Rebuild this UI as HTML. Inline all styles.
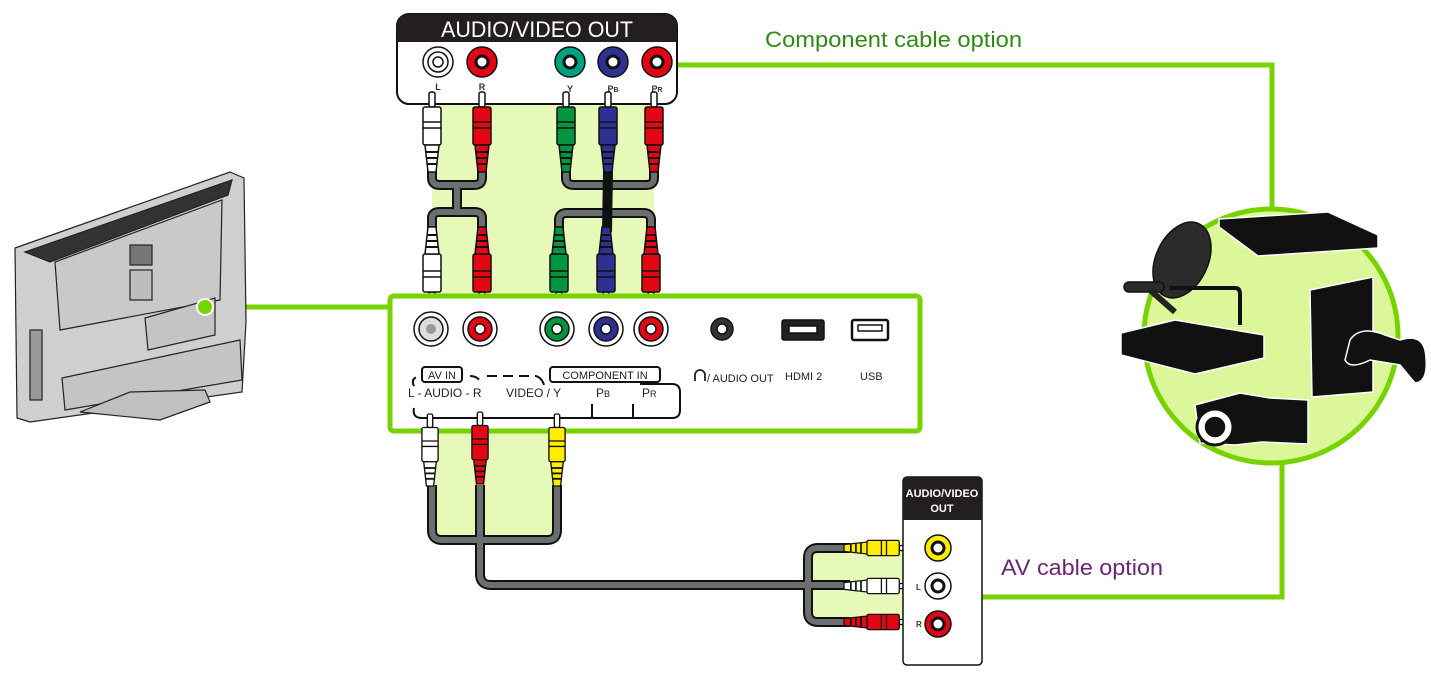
<!DOCTYPE html>
<html><head><meta charset="utf-8"><style>
html,body{margin:0;padding:0;background:#fff;width:1431px;height:677px;overflow:hidden}
svg{display:block}
text{font-family:"Liberation Sans",sans-serif}
</style></head><body>
<svg width="1431" height="677" viewBox="0 0 1431 677" xmlns="http://www.w3.org/2000/svg">
<defs>
<g id="plug" stroke="#111" stroke-width="1.5">
  <rect x="-3" y="0" width="6" height="15" rx="2" fill="#fff"/>
  <rect x="-9" y="15" width="18" height="38" rx="2"/>
  <line x1="-9" y1="30" x2="9" y2="30"/><line x1="-9" y1="36" x2="9" y2="36"/>
  <polygon points="-7,53 7,53 4,80 -4,80"/>
  <line x1="-6" y1="60" x2="6" y2="60" stroke-width="2"/><line x1="-5" y1="66" x2="5" y2="66" stroke-width="2"/><line x1="-5" y1="72" x2="5" y2="72" stroke-width="2"/>
</g>
</defs>

<rect x="432" y="100" width="222" height="198" fill="#e6f9b8"/>
<rect x="432" y="431" width="125" height="109" fill="#e6f9b8"/>
<rect x="808" y="548" width="95" height="76" fill="#e6f9b8"/>

<g stroke="#77d300" stroke-width="5" fill="none">
  <polyline points="677,65 1272,65 1272,212"/>
  <polyline points="1282,462 1282,597 982,597"/>
  <line x1="205" y1="307" x2="390" y2="307"/>
</g>
<text x="765" y="47" font-size="22" fill="#2f8a14" textLength="257" lengthAdjust="spacingAndGlyphs">Component cable option</text>
<text x="1001" y="575" font-size="22" fill="#6a2577" textLength="162" lengthAdjust="spacingAndGlyphs">AV cable option</text>

<!-- TV -->
<g stroke="#222" stroke-width="1.2">
  <polygon points="15,248 230,172 244,178 246,322 242,392 30,422 17,418" fill="#cfcfcf"/>
  <polygon points="25,252 232,180 228,195 50,262" fill="#333"/>
  <polygon points="55,262 222,200 220,300 60,330" fill="#c9c9c9"/>
  <rect x="130" y="245" width="22" height="20" fill="#777"/>
  <rect x="130" y="270" width="22" height="30" fill="#bdbdbd"/>
  <polygon points="145,318 215,298 215,335 148,350" fill="#c4c4c4"/>
  <polygon points="62,378 240,340 242,380 65,410" fill="#c4c4c4"/>
  <polygon points="80,412 130,392 205,390 210,402 160,420" fill="#c0c0c0"/>
  <rect x="30" y="330" width="12" height="70" fill="#999"/>
</g>
<circle cx="205" cy="307" r="8" fill="#77d300" stroke="#fff" stroke-width="2"/>

<!-- top AV OUT box -->
<rect x="397" y="14" width="280" height="90" rx="12" fill="#fff" stroke="#111" stroke-width="2"/>
<path d="M397,42 V26 A12,12 0 0 1 409,14 H665 A12,12 0 0 1 677,26 V42 Z" fill="#231f20"/>
<text x="537" y="37" font-size="22" fill="#fff" text-anchor="middle" textLength="192" lengthAdjust="spacingAndGlyphs">AUDIO/VIDEO OUT</text>
<g stroke="#111" stroke-width="1.5">
  <circle cx="438" cy="62" r="15" fill="#fff"/><circle cx="438" cy="62" r="10" fill="#fff"/><circle cx="438" cy="62" r="5" fill="#fff"/>
  <circle cx="482" cy="62" r="15" fill="#e30613"/><circle cx="482" cy="62" r="6" fill="#fff" stroke-width="3"/>
  <circle cx="570" cy="62" r="15" fill="#00a082"/><circle cx="570" cy="62" r="6" fill="#fff" stroke-width="3"/>
  <circle cx="613" cy="62" r="15" fill="#2e3192"/><circle cx="613" cy="62" r="6" fill="#fff" stroke-width="3"/>
  <circle cx="657" cy="62" r="15" fill="#e30613"/><circle cx="657" cy="62" r="6" fill="#fff" stroke-width="3"/>
</g>
<g font-size="9" font-weight="bold" fill="#333" text-anchor="middle">
  <text x="438" y="90">L</text><text x="482" y="90">R</text><text x="570" y="92">Y</text><text x="613" y="92">P<tspan font-size="7">B</tspan></text><text x="657" y="92">P<tspan font-size="7">R</tspan></text>
</g>

<g fill="none" stroke-linejoin="round">
  <g stroke="#111" stroke-width="10">
    <path d="M432,170 V178 Q432,185 440,185 H474 Q482,185 482,178 V170 M457,185 V212 M432,232 V218 Q432,212 440,212 H474 Q482,212 482,218 V232"/>
    <path d="M566,170 V178 Q566,185 574,185 H646 Q654,185 654,178 V170 M559,232 V220 Q559,213 567,213 H643 Q651,213 651,220 V232"/>
  </g>
  <g stroke="#6d6e70" stroke-width="6">
    <path d="M432,170 V178 Q432,185 440,185 H474 Q482,185 482,178 V170 M457,185 V212 M432,232 V218 Q432,212 440,212 H474 Q482,212 482,218 V232"/>
    <path d="M566,170 V178 Q566,185 574,185 H646 Q654,185 654,178 V170 M559,232 V220 Q559,213 567,213 H643 Q651,213 651,220 V232"/>
  </g>
  <line x1="608" y1="170" x2="607" y2="232" stroke="#111" stroke-width="10"/>
</g>
<use href="#plug" transform="translate(432,92)" fill="#fff"/>
<use href="#plug" transform="translate(482,92)" fill="#e30613"/>
<use href="#plug" transform="translate(566,92)" fill="#00963f"/>
<use href="#plug" transform="translate(608,92)" fill="#2e3192"/>
<use href="#plug" transform="translate(654,92)" fill="#e30613"/>
<use href="#plug" transform="translate(432,307) rotate(180)" fill="#fff"/>
<use href="#plug" transform="translate(482,307) rotate(180)" fill="#e30613"/>
<use href="#plug" transform="translate(559,307) rotate(180)" fill="#00963f"/>
<use href="#plug" transform="translate(606,307) rotate(180)" fill="#2e3192"/>
<use href="#plug" transform="translate(651,307) rotate(180)" fill="#e30613"/>

<!-- TV panel -->
<rect x="390" y="296" width="530" height="135" rx="4" fill="#fff" stroke="#77d300" stroke-width="5"/>
<g stroke="#111" stroke-width="1.5">
  <circle cx="431" cy="329" r="17" fill="#fff"/><circle cx="431" cy="329" r="12" fill="#ddd"/><circle cx="431" cy="329" r="5" fill="#999" stroke="none"/>
  <circle cx="480" cy="329" r="17" fill="#fff"/><circle cx="480" cy="329" r="12" fill="#e30613"/><circle cx="480" cy="329" r="5" fill="#fff"/>
  <circle cx="557" cy="329" r="17" fill="#fff"/><circle cx="557" cy="329" r="12" fill="#00963f"/><circle cx="557" cy="329" r="5" fill="#fff"/>
  <circle cx="606" cy="329" r="17" fill="#fff"/><circle cx="606" cy="329" r="12" fill="#2e3192"/><circle cx="606" cy="329" r="5" fill="#fff"/>
  <circle cx="651" cy="329" r="17" fill="#fff"/><circle cx="651" cy="329" r="12" fill="#e30613"/><circle cx="651" cy="329" r="5" fill="#fff"/>
  <circle cx="722" cy="329" r="11" fill="#333"/><circle cx="722" cy="329" r="5" fill="#fff"/>
  <rect x="782" y="320" width="42" height="20" rx="2" fill="#222"/><rect x="789" y="326" width="28" height="7" fill="#fff"/>
  <rect x="852" y="320" width="36" height="20" rx="2" fill="#fff" stroke-width="2.5"/><rect x="858" y="325" width="24" height="6" fill="#fff"/>
</g>
<g fill="none" stroke="#111" stroke-width="2">
  <path d="M414,386 Q410,378 420,376 M470,376 Q478,376 481,383 M487,376 H536" stroke-dasharray="10,6"/>
  <path d="M536,376 Q542,378 544,385"/>
  <path d="M414,408 Q412,418 422,418 H672 Q680,418 680,410 V392 Q680,384 672,384 H640"/>
  <path d="M592,404 V418 M633,404 V418"/>
</g>
<rect x="422" y="367" width="40" height="15" rx="3" fill="#fff" stroke="#111" stroke-width="2"/>
<text x="442" y="379" font-size="11" text-anchor="middle" fill="#222">AV IN</text>
<rect x="550" y="367" width="110" height="15" rx="3" fill="#fff" stroke="#111" stroke-width="2"/>
<text x="605" y="379" font-size="11" text-anchor="middle" fill="#222">COMPONENT IN</text>
<g font-size="12" fill="#222">
  <text x="408" y="397">L - AUDIO - R</text>
  <text x="506" y="397">VIDEO / Y</text>
  <text x="596" y="397">P<tspan font-size="9">B</tspan></text>
  <text x="642" y="397">P<tspan font-size="9">R</tspan></text>
  <text x="707" y="382" font-size="11">/ AUDIO OUT</text>
  <text x="785" y="380" font-size="11">HDMI 2</text>
  <text x="860" y="380" font-size="11">USB</text>
</g>
<path d="M695,381 V375 A5,5 0 0 1 705,375 V381" fill="none" stroke="#222" stroke-width="1.8"/>

<g fill="none" stroke-linejoin="round">
  <g stroke="#111" stroke-width="10">
    <path d="M432,485 V530 Q432,540 442,540 H547 Q557,540 557,530 V485"/>
    <path d="M480,485 V574 Q480,585 491,585 H850"/>
    <path d="M850,548 H818 Q808,548 808,558 V612 Q808,622 818,622 H850"/>
  </g>
  <g stroke="#6d6e70" stroke-width="6">
    <path d="M432,485 V530 Q432,540 442,540 H547 Q557,540 557,530 V485"/>
    <path d="M480,485 V574 Q480,585 491,585 H850"/>
    <path d="M850,548 H818 Q808,548 808,558 V612 Q808,622 818,622 H850"/>
  </g>
</g>
<use href="#plug" transform="translate(430,414) scale(0.9)" fill="#fff"/>
<use href="#plug" transform="translate(480,412) scale(0.9)" fill="#e30613"/>
<use href="#plug" transform="translate(557,414) scale(0.9)" fill="#ffed00"/>
<use href="#plug" transform="translate(912,548) rotate(90) scale(0.85)" fill="#ffed00"/>
<use href="#plug" transform="translate(912,586) rotate(90) scale(0.85)" fill="#fff"/>
<use href="#plug" transform="translate(912,622) rotate(90) scale(0.85)" fill="#e30613"/>

<rect x="903" y="477" width="79" height="188" rx="4" fill="#fff" stroke="#111" stroke-width="1.5"/>
<path d="M903,520 V481 A4,4 0 0 1 907,477 H978 A4,4 0 0 1 982,481 V520 Z" fill="#231f20"/>
<text x="942" y="497" font-size="11" font-weight="bold" fill="#fff" text-anchor="middle">AUDIO/VIDEO</text>
<text x="942" y="512" font-size="11" font-weight="bold" fill="#fff" text-anchor="middle">OUT</text>
<g stroke="#111" stroke-width="1.5">
  <circle cx="938" cy="548" r="13" fill="#ffed00"/><circle cx="938" cy="548" r="6" fill="#fff" stroke-width="3"/>
  <circle cx="938" cy="586" r="13" fill="#fff"/><circle cx="938" cy="586" r="6" fill="#fff" stroke-width="3"/>
  <circle cx="938" cy="624" r="13" fill="#e30613"/><circle cx="938" cy="624" r="6" fill="#fff" stroke-width="3"/>
</g>
<text x="916" y="590" font-size="8" font-weight="bold" fill="#333">L</text>
<text x="916" y="627" font-size="8" font-weight="bold" fill="#333">R</text>

<!-- devices -->
<circle cx="1271" cy="336" r="127" fill="#dcf79a" stroke="#77d300" stroke-width="5"/>
<g stroke="#fff" stroke-width="1.5" fill="#111">
  <polygon points="1219,219 1328,212 1378,235 1378,248 1258,256 1219,227"/>
  <ellipse cx="1182" cy="260" rx="26" ry="40" transform="rotate(25 1182 260)" fill="#2b2b2b" stroke="#111"/>
  <rect x="1124" y="282" width="40" height="10" rx="5" fill="#2b2b2b" stroke="#111"/>
  <line x1="1150" y1="290" x2="1175" y2="312" stroke="#222" stroke-width="6"/>
  <path d="M1170,288 H1235 Q1240,288 1240,294 V325" fill="none" stroke="#111" stroke-width="4"/>
  <polygon points="1121,333 1175,320 1264,335 1264,358 1195,374 1121,355"/>
  <polygon points="1310,290 1373,277 1373,392 1312,397"/>
  <path d="M1350,340 Q1360,325 1385,335 L1400,340 Q1425,332 1426,358 Q1428,382 1415,383 L1400,365 L1370,360 Q1350,370 1345,360 Z"/>
  <polygon points="1195,405 1240,393 1270,398 1308,400 1308,444 1262,442 1235,445 1200,443"/>
  <circle cx="1215" cy="427" r="18" fill="#fff" stroke="#111" stroke-width="3"/>
  <circle cx="1215" cy="427" r="11" fill="#111"/>
</g>
</svg>
</body></html>
